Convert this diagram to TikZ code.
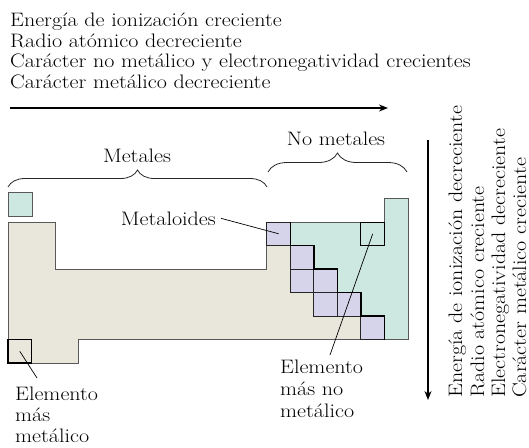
\documentclass[tikz,border=0pt]{standalone}
\usetikzlibrary{arrows.meta, decorations.pathreplacing}
\definecolor{tbeige}{RGB}{233,231,219}
\definecolor{tgreen}{RGB}{205,232,224}
\definecolor{tpurple}{RGB}{214,212,235}
\newcommand{\wtxt}[1]{\scalebox{1.13}[1]{#1}}
\begin{document}
\begin{tikzpicture}[x=1pt,y=-1pt,
  lbl/.style={inner sep=0pt, text=black, font=\fontsize{19.5}{22}\selectfont},
  arr/.style={line width=1.3pt, -{Stealth[length=9pt,width=7pt]}},
  outl/.style={draw=black!65, line width=0.9pt},
  cellline/.style={draw=black!85, line width=1pt},
  stair/.style={draw=black, line width=1.3pt},
  boxb/.style={draw=black, line width=1pt},
  brc/.style={draw=black!85, line width=0.8pt, decorate},
  lead/.style={draw=black, line width=0.7pt}]
\useasboundingbox (0,0) rectangle (529,447);

% top texts
\node[lbl, anchor=base west] (t1) at (10,26.5) {\wtxt{Energía de ionización creciente}};
\node[lbl, anchor=base west] (t2) at (10,47) {\wtxt{Radio atómico decreciente}};
\node[lbl, anchor=base west] (t3) at (10,67.5) {\wtxt{Carácter no metálico y electronegatividad crecientes}};
\node[lbl, anchor=base west] (t4) at (10,88) {\wtxt{Carácter metálico decreciente}};
\coordinate (ha1) at (10,108);
\coordinate (ha2) at (388,108);
\draw[arr] (ha1) -- (ha2);

% vertical arrow and texts
\coordinate (va1) at (428,140);
\coordinate (va2) at (428,400);
\draw[arr] (va1) -- (va2);
\node[lbl, rotate=90, anchor=base west] (v1) at (462,398) {\wtxt{Energía de ionización decreciente}};
\node[lbl, rotate=90, anchor=base west] (v2) at (484,398) {\wtxt{Radio atómico creciente}};
\node[lbl, rotate=90, anchor=base west] (v3) at (505,398) {\wtxt{Electronegatividad decreciente}};
\node[lbl, rotate=90, anchor=base west] (v4) at (526,398) {\wtxt{Carácter metálico creciente}};

% hydrogen
\draw[outl, fill=tgreen] (8,192) rectangle (32,216);

% table
\begin{scope}[shift={(8,222)}, x=23.53pt, y=-23.5pt]
  \fill[tbeige] (0,0) -- (2,0) -- (2,2) -- (11,2) -- (11,1) -- (12,1) -- (12,3) -- (13,3) -- (13,4) -- (15,4) -- (15,5) -- (3,5) -- (3,6) -- (0,6) -- cycle;
  \fill[tgreen] (12,0) -- (16,0) -- (16,-1) -- (17,-1) -- (17,5) -- (16,5) -- (16,4) -- (15,4) -- (15,3) -- (14,3) -- (14,2) -- (13,2) -- (13,1) -- (12,1) -- cycle;
  \draw[outl] (0,0) -- (2,0) -- (2,2) -- (11,2) -- (11,1) -- (12,1) -- (12,3) -- (13,3) -- (13,4) -- (15,4) -- (15,5) -- (3,5) -- (3,6) -- (0,6) -- cycle;
  \draw[outl] (12,0) -- (16,0) -- (16,-1) -- (17,-1) -- (17,5) -- (16,5) -- (16,4) -- (15,4) -- (15,3) -- (14,3) -- (14,2) -- (13,2) -- (13,1) -- (12,1) -- cycle;
  \foreach \c/\r in {11/0,12/1,12/2,13/2,13/3,14/3,15/4}
    \draw[cellline, fill=tpurple] (\c,\r) rectangle ++(1,1);
  \draw[stair] (12,0) -- (12,1) -- (13,1) -- (13,2) -- (14,2) -- (14,3) -- (15,3) -- (15,4) -- (16,4) -- (16,5);
  \draw[boxb, line width=1.3pt] (0,5) rectangle (1,6);
  \draw[boxb] (15,0) rectangle (16,1);
  \coordinate (bc) at (11.5,0.5);
  \coordinate (frc) at (0.5,5.5);
  \coordinate (fc) at (15.5,0.5);
\end{scope}

% braces
\coordinate (mb1) at (8,187);
\coordinate (mb2) at (267,187);
\draw[brc, decoration={brace, amplitude=17pt}] (mb1) -- (mb2);
\node[lbl] (metales) at (137,156) {\wtxt{Metales}};
\coordinate (nb1) at (268,172);
\coordinate (nb2) at (407,172);
\draw[brc, decoration={brace, amplitude=19pt}] (nb1) -- (nb2);
\node[lbl] (nometales) at (336,139) {\wtxt{No metales}};

% metaloides
\node[lbl, anchor=base east] (metaloides) at (216,225) {\wtxt{Metaloides}};
\draw[lead] ([xshift=5pt]metaloides.east) -- (bc);

% most metallic
\node[lbl, anchor=base west] (em1) at (15,400) {\wtxt{Elemento}};
\node[lbl, anchor=base west] (em2) at (15,421) {\wtxt{más}};
\node[lbl, anchor=base west] (em3) at (15,442) {\wtxt{metálico}};
\coordinate (emt) at (37,378);
\draw[lead] (frc) -- (emt);

% most non-metallic
\node[lbl, anchor=base west] (en1) at (280,373) {\wtxt{Elemento}};
\node[lbl, anchor=base west] (en2) at (280,395) {\wtxt{más no}};
\node[lbl, anchor=base west] (en3) at (280,417) {\wtxt{metálico}};
\coordinate (ent) at (330,355);
\draw[lead] (fc) -- (ent);
\end{tikzpicture}
\end{document}
